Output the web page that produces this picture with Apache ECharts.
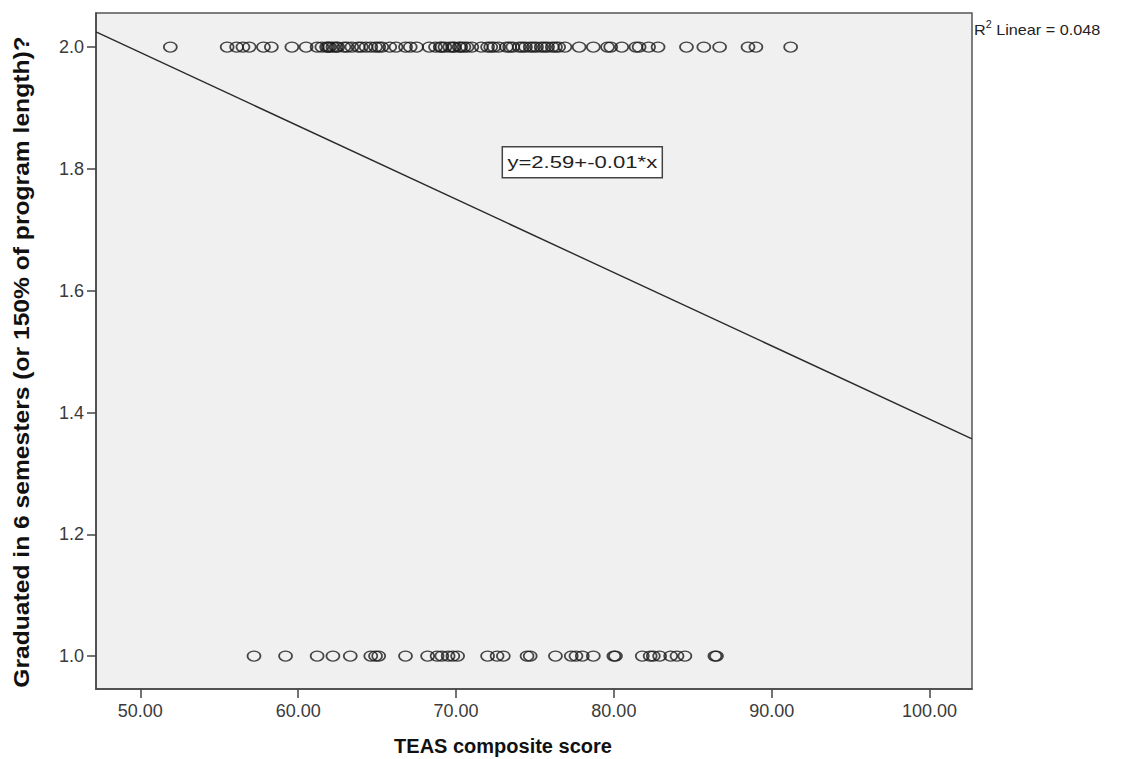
<!DOCTYPE html>
<html>
<head>
<meta charset="utf-8">
<script src="https://cdn.jsdelivr.net/npm/echarts@6/dist/echarts.min.js"></script>
<style>
  html, body { margin: 0; padding: 0; background: #ffffff; }
  #chart { width: 1133px; height: 759px; }
</style>
</head>
<body>
<div id="chart"></div>
<script>
// TEAS composite scores of students who graduated within 150% of program length (coded 2)
const graduatedYes = [
  51.9, 55.5, 56.1, 56.5, 56.9, 57.8, 58.3, 59.6, 60.5,
  61.2, 61.5, 61.8, 61.9, 62.0, 62.2, 62.4, 62.5, 62.9, 63.1, 63.4, 63.8, 64.0,
  64.3, 64.6, 64.9, 65.1, 65.3, 65.8, 66.2, 66.8, 67.1, 67.5, 68.3, 68.7, 69.0,
  69.1, 69.3, 69.6, 69.8, 69.9, 70.2, 70.3, 70.5, 70.7, 71.0, 71.6, 72.0, 72.2,
  72.4, 72.7, 73.2, 73.4, 73.6, 74.0, 74.2, 74.4, 74.7, 74.9, 75.1, 75.4, 75.6,
  75.8, 76.1, 76.3, 76.5, 76.9, 77.8, 78.7, 79.6, 79.8, 80.5, 81.4, 81.6, 82.2,
  82.8, 84.6, 85.7, 86.7, 88.5, 89.0, 91.2
];
// TEAS composite scores of students who did not graduate within that time (coded 1)
const graduatedNo = [
  57.2, 59.2, 61.2, 62.2, 63.3, 64.6, 64.9, 65.1, 66.8, 68.2,
  68.8, 69.1, 69.5, 69.8, 70.1, 72.0, 72.6, 73.0, 74.5, 74.7,
  76.3, 77.3, 77.6, 78.0, 78.7, 80.0, 80.1, 81.8, 82.3, 82.5,
  82.9, 83.6, 84.0, 84.5, 86.4, 86.5
];
// Fitted linear regression
const fitIntercept = 2.593;
const fitSlope = -0.01204;
const rSquared = 0.048;
const equationText = 'y=2.59+-0.01*x';
const equationAt = [78.0, 1.811];

// Axis ranges and tick values
const xMin = 47.19, xMax = 102.69;
const yMin = 0.946, yMax = 2.056;
const xTicks = [50, 60, 70, 80, 90, 100];
const yTicks = [1.0, 1.2, 1.4, 1.6, 1.8, 2.0];

const xTitle = 'TEAS composite score';
const yTitle = 'Graduated in 6 semesters (or 150% of program length)?';

const pointsYes = graduatedYes.map(v => [v, 2]);
const pointsNo = graduatedNo.map(v => [v, 1]);
const fitLine = [xMin, xMax].map(x => [x, fitIntercept + fitSlope * x]);

const FONT = '"Liberation Sans", Arial, sans-serif';
const chart = echarts.init(document.getElementById('chart'), null, { renderer: 'svg' });

const axisCommon = {
  type: 'value',
  axisLine: { show: true, lineStyle: { color: '#444', width: 1.5 } },
  axisTick: { show: true, length: 9, lineStyle: { color: '#444', width: 1.5 } },
  splitLine: { show: false },
  axisLabel: { color: '#3a3a3a', fontFamily: FONT, fontSize: 18 }
};

const markerStyle = { color: 'rgba(0,0,0,0)', borderColor: '#1a1a1a', borderWidth: 1.5 };

chart.setOption({
  backgroundColor: '#ffffff',
  animation: false,
  grid: {
    left: 96, right: 161, top: 13, bottom: 70,
    show: true, backgroundColor: '#f0f0f0', borderColor: '#555', borderWidth: 1.5
  },
  xAxis: Object.assign({}, axisCommon, {
    min: xMin, max: xMax,
    axisTick: Object.assign({}, axisCommon.axisTick, { customValues: xTicks }),
    axisLabel: Object.assign({}, axisCommon.axisLabel, {
      customValues: xTicks, margin: 13,
      formatter: v => Number(v).toFixed(2)
    })
  }),
  yAxis: Object.assign({}, axisCommon, {
    min: yMin, max: yMax,
    axisTick: Object.assign({}, axisCommon.axisTick, { customValues: yTicks }),
    axisLabel: Object.assign({}, axisCommon.axisLabel, {
      customValues: yTicks, margin: 12,
      formatter: v => Number(v).toFixed(1)
    })
  }),
  series: [
    { type: 'scatter', data: pointsYes, symbol: 'circle', symbolSize: [13, 10], itemStyle: markerStyle },
    { type: 'scatter', data: pointsNo, symbol: 'circle', symbolSize: [13, 10], itemStyle: markerStyle },
    {
      type: 'line', data: fitLine, symbol: 'none',
      lineStyle: { color: '#2a2a2a', width: 1.4 }
    }
  ]
});

// Equation box anchored at a data position inside the plot
const eqPx = chart.convertToPixel({ xAxisIndex: 0, yAxisIndex: 0 }, equationAt);

chart.setOption({
  graphic: [
    {
      type: 'group', x: eqPx[0], y: eqPx[1],
      children: [
        {
          type: 'rect', shape: { x: -80, y: -15.5, width: 160, height: 31 },
          style: { fill: '#ffffff', stroke: '#444', lineWidth: 1.5 }
        },
        {
          type: 'text', x: 0, y: 0, scaleX: 1.3,
          style: {
            text: equationText, fontFamily: FONT, fontSize: 17,
            fill: '#222', align: 'center', verticalAlign: 'middle'
          }
        }
      ]
    },
    {
      type: 'text', x: 974, y: 20, scaleX: 1.08,
      style: {
        text: '{r|R}{sup|2}{r| Linear = ' + rSquared.toFixed(3) + '}',
        rich: {
          r: { fontFamily: FONT, fontSize: 15, fill: '#222', verticalAlign: 'bottom', lineHeight: 17 },
          sup: { fontFamily: FONT, fontSize: 10, fill: '#222', verticalAlign: 'top', lineHeight: 17, padding: [0, 0, 7, 0] }
        }
      }
    },
    {
      type: 'text', x: 503, y: 746,
      style: {
        text: xTitle, fontFamily: FONT, fontSize: 20, fontWeight: 'bold',
        fill: '#111', align: 'center', verticalAlign: 'middle'
      }
    },
    {
      type: 'text', x: 21, y: 362, rotation: Math.PI / 2, scaleX: 1.12,
      style: {
        text: yTitle, fontFamily: FONT, fontSize: 22, fontWeight: 'bold',
        fill: '#111', align: 'center', verticalAlign: 'middle'
      }
    }
  ]
});
</script>
</body>
</html>
